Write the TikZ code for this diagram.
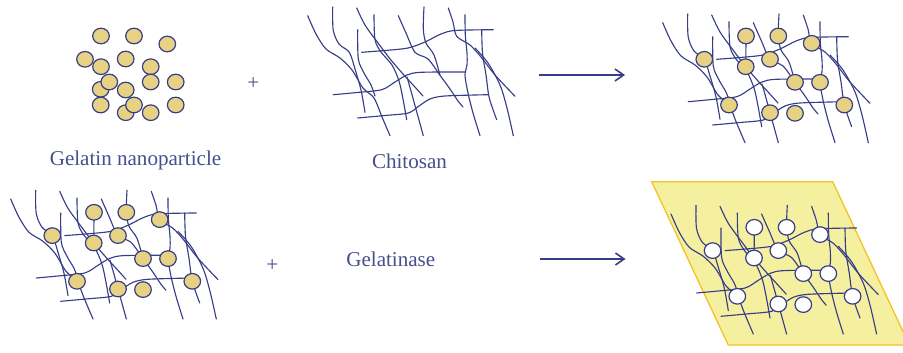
\documentclass[tikz,border=0pt]{standalone}
\usepackage{fontspec}
\setmainfont{Liberation Serif}
\usetikzlibrary{arrows.meta}

\definecolor{strand}{RGB}{55,62,135}
\definecolor{inkblue}{RGB}{70,78,140}
\definecolor{beadfill}{RGB}{230,210,130}
\definecolor{sheetfill}{RGB}{245,240,160}
\definecolor{sheetedge}{RGB}{245,195,40}

\tikzset{
  fiber/.style={draw=strand, line width=0.85pt, line cap=round},
  bead/.style={fill=beadfill, draw=strand, line width=0.9pt},
  lbltext/.style={text=inkblue, font=\fontsize{15.8}{18}\selectfont, inner sep=0pt},
  flowarrow/.style={draw=strand, line width=1.5pt, -{Straight Barb[length=6.5pt,width=9pt,line width=1.2pt]}},
  % chitosan mesh: three wavy cross chains and slanted wavy chains
  strands/.pic={
    \draw[fiber] plot[smooth] coordinates {(66.7,59.3) (90,57.5) (113,55) (130,49) (146,41) (160,37.5) (198.3,36.7)};
    \draw[fiber] plot[smooth] coordinates {(38.3,101.7) (62,99.5) (86.7,96.7) (100,89) (112,82) (126,79.3) (170,79)};
    \draw[fiber] plot[smooth] coordinates {(62.7,125) (90,122.5) (113.3,120) (124,113) (135,106) (150,103) (193.3,101.7)};
    \draw[fiber] plot[smooth] coordinates {(12.7,22.7) (21,41) (31,56) (45,65) (57,77) (68,95) (79,105) (87,124) (95,142.7)};
    \draw[fiber] plot[smooth] coordinates {(37.7,14) (38.2,37) (44,51) (54.3,59.3) (60,76) (66,97) (70,119.3)};
    \draw[fiber] plot[smooth] coordinates {(62.7,36.7) (63.3,66) (69,80) (76,92) (80,103)};
    \draw[fiber] plot[smooth] coordinates {(61.7,15) (70,32) (83,50) (95.7,66.7) (108,81) (119,93) (128,103)};
    \draw[fiber] plot[smooth] coordinates {(79,21.7) (80,46.7) (86,59) (97,72) (104,88) (108,106) (111.7,126.7)};
    \draw[fiber] plot[smooth] coordinates {(103.3,22.7) (111,40) (120,59.3) (133,66) (145,82.3) (155,96) (163,108) (168,114)};
    \draw[fiber] plot[smooth] coordinates {(129,14) (128.3,36) (131,50) (139,62) (145,82.3)};
    \draw[fiber] plot[smooth] coordinates {(112,84) (116,98) (120,112.7) (124,127) (128.3,142.7)};
    \draw[fiber] plot[smooth] coordinates {(153.3,15) (158,29) (161.7,43.3) (175,52) (186,64) (200,82) (220,103.3)};
    \draw[fiber] plot[smooth] coordinates {(170,21.7) (170.3,42) (172,60) (172,72) (170,82.3) (173,100) (178,120) (185,142.7)};
    \draw[fiber] plot[smooth] coordinates {(186.7,36.7) (187.5,60) (191,82) (194.3,105) (201.7,126.7)};
    \draw[fiber] plot[smooth] coordinates {(180,55) (193,70) (205,92) (212,115) (218.3,142.7)};
  },
  % particles held in the mesh
  beads/.pic={
    \draw[fiber] (96,36) -- (95.8,66.7);
    \foreach \bx/\by in {96/36, 128.3/36, 54.3/59.3, 120/59.3, 161.7/43.3, 95.7/66.7,
                         145/82.3, 170/82.3, 79/105, 120/112.7, 145/113.3, 194.3/105}
      \path[bead] (\bx,\by) ellipse [x radius=8.3, y radius=7.8];
  },
}

\begin{document}
\begin{tikzpicture}[x=0.75pt, y=-0.75pt]
\useasboundingbox (0,0) rectangle (903,353);

% free gelatin nanoparticles
\foreach \bx/\by in {101/36, 134/36, 167.3/44, 85/59.3, 101/66.7, 125.7/59, 150.7/66.7,
                     100.7/89.3, 109.3/82, 125.7/90, 150.7/82, 175.7/82, 100.7/105,
                     125.7/112.7, 134/105, 150.7/112.7, 175.7/105}
  \path[bead] (\bx,\by) ellipse [x radius=8.3, y radius=7.8];
\node[lbltext, anchor=base] (gelname) at (135.5,165) {Gelatin nanoparticle};

\node[lbltext] (plusA) at (253.3,83.3) {+};

% chitosan
\begin{scope}[shift={(295,-7)}, xscale=0.93]
  \pic (chi) at (0,0) {strands};
\end{scope}
\node[lbltext, anchor=base] (chiname) at (409.5,168.3) {Chitosan};

\coordinate (arrAs) at (539.3,75);
\coordinate (arrAe) at (625,75);
\draw[flowarrow] (arrAs) -- (arrAe);

% loaded mesh
\pic (loadA) at (650,0) {strands};
\pic (loadA) at (650,0) {beads};

% second row
\pic (loadB) at (-2,176.3) {strands};
\pic (loadB) at (-2,176.3) {beads};

\node[lbltext] (plusB) at (272.3,265.7) {+};
\node[lbltext, anchor=base] (gelase) at (390.8,266.7) {Gelatinase};

\coordinate (arrBs) at (540,259);
\coordinate (arrBe) at (625.5,259);
\draw[flowarrow] (arrBs) -- (arrBe);

% film with emptied pores
\coordinate (sh1) at (651.7,181.7);
\coordinate (sh2) at (832.7,181.7);
\coordinate (sh3) at (909.3,345);
\coordinate (sh4) at (728.3,345);
\fill[black!25, shift={(3.5,4)}] (sh1) -- (sh2) -- (sh3) -- (sh4) -- cycle;
\filldraw[fill=sheetfill, draw=sheetedge, line width=1pt, line join=round] (sh1) -- (sh2) -- (sh3) -- (sh4) -- cycle;
\begin{scope}[bead/.style={fill=white, draw=strand, line width=0.9pt}]
  \pic (film) at (658.3,191.3) {strands};
  \pic (film) at (658.3,191.3) {beads};
\end{scope}
\end{tikzpicture}
\end{document}
